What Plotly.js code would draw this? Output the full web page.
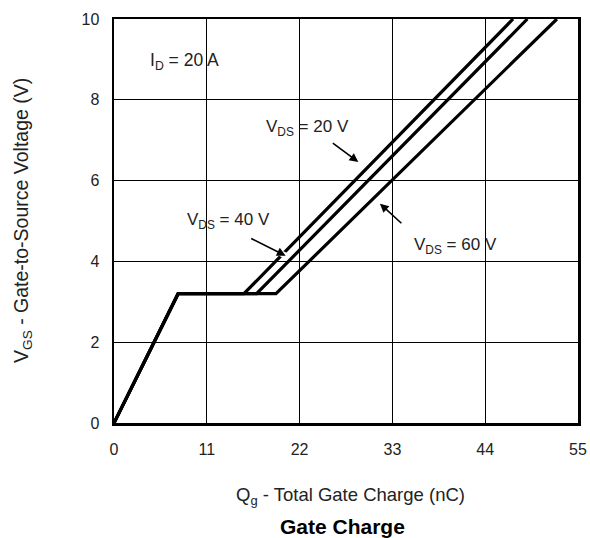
<!DOCTYPE html>
<html><head><meta charset="utf-8">
<script src="https://cdn.plot.ly/plotly-3.0.1.min.js"></script>
<style>html,body{margin:0;padding:0;background:#fff}</style>
</head><body><div id="chart" style="width:590px;height:538px"></div>
<script>
const vgs = [0, 3.2, 3.2, 10];
const q20 = [0, 7.6, 15.4, 47.3];
const q40 = [0, 7.6, 16.9, 49.0];
const q60 = [0, 7.6, 19.2, 52.5];
const xTicks = [0, 11, 22, 33, 44, 55];
const yTicks = [0, 2, 4, 6, 8, 10];

const F = "Liberation Sans, Arial, sans-serif";
const line = {color: '#000', width: 3.2};
const traces = [
  {x: q20, y: vgs, mode: 'lines', line: line, name: 'VDS = 20 V'},
  {x: q40, y: vgs, mode: 'lines', line: line, name: 'VDS = 40 V'},
  {x: q60, y: vgs, mode: 'lines', line: line, name: 'VDS = 60 V'}
];
const tick = {family: F, size: 16, color: '#222'};
const lab = {family: F, size: 17, color: '#222'};
const ttl = {family: F, size: 18.5, color: '#222'};
const layout = {
  width: 590, height: 538,
  margin: {l: 114, r: 12, t: 19, b: 115},
  paper_bgcolor: '#fff', plot_bgcolor: '#fff',
  showlegend: false,
  font: tick,
  xaxis: {range: [0, 55], tickvals: xTicks, ticktext: xTicks.map(String),
    showgrid: true, gridcolor: '#000', gridwidth: 1, zeroline: false,
    showline: true, linecolor: '#000', linewidth: 2.5, mirror: true,
    ticks: '', ticklabelstandoff: 10, tickfont: tick, fixedrange: true},
  yaxis: {range: [0, 10], tickvals: yTicks, ticktext: yTicks.map(String),
    showgrid: true, gridcolor: '#000', gridwidth: 1, zeroline: false,
    showline: true, linecolor: '#000', linewidth: 2.5, mirror: true,
    ticks: '', ticklabelstandoff: 9, tickfont: tick, fixedrange: true},
  annotations: [
    {x: 4.0, y: 8.94, xref: 'x', yref: 'y', text: 'I<sub>D</sub> = 20 A', showarrow: false, xanchor: 'left', yanchor: 'middle', font: {family: F, size: 17.5, color: '#222'}},
    {x: 22.9, y: 7.3, xref: 'x', yref: 'y', text: 'V<sub>DS</sub> = 20 V', showarrow: false, xanchor: 'center', yanchor: 'middle', font: lab},
    {x: 13.6, y: 4.99, xref: 'x', yref: 'y', text: 'V<sub>DS</sub> = 40 V', showarrow: false, xanchor: 'center', yanchor: 'middle', font: lab},
    {x: 40.5, y: 4.39, xref: 'x', yref: 'y', text: 'V<sub>DS</sub> = 60 V', showarrow: false, xanchor: 'center', yanchor: 'middle', font: lab},
    {x: 28.96, y: 6.46, xref: 'x', yref: 'y', text: '', showarrow: true, ax: -27, ay: -20, arrowhead: 2, arrowsize: 1.1, arrowwidth: 1.6, arrowcolor: '#000'},
    {x: 20.35, y: 4.14, xref: 'x', yref: 'y', text: '', showarrow: true, ax: -36, ay: -18, arrowhead: 0, arrowwidth: 6, arrowcolor: '#fff'},
    {x: 20.35, y: 4.14, xref: 'x', yref: 'y', text: '', showarrow: true, ax: -36, ay: -18, arrowhead: 2, arrowsize: 1.1, arrowwidth: 1.6, arrowcolor: '#000'},
    {x: 31.52, y: 5.43, xref: 'x', yref: 'y', text: '', showarrow: true, ax: 23, ay: 21, arrowhead: 2, arrowsize: 1.1, arrowwidth: 1.6, arrowcolor: '#000'},
    {x: 0.5, y: 0, xref: 'paper', yref: 'paper', yshift: -73, xshift: 4, text: 'Q<sub>g</sub> - Total Gate Charge (nC)', showarrow: false, xanchor: 'center', yanchor: 'middle', font: ttl},
    {x: 0.5, y: 0, xref: 'paper', yref: 'paper', yshift: -103, xshift: -4, text: '<b>Gate Charge</b>', showarrow: false, xanchor: 'center', yanchor: 'middle', font: {family: F, size: 21, color: '#000'}},
    {x: 0, y: 0.5, xref: 'paper', yref: 'paper', xshift: -92, text: 'V<sub>GS</sub> - Gate-to-Source Voltage (V)', showarrow: false, textangle: -90, xanchor: 'center', yanchor: 'middle', font: {family: F, size: 19.5, color: '#222'}}
  ]
};
Plotly.newPlot('chart', traces, layout, {staticPlot: true, displayModeBar: false});
</script></body></html>
